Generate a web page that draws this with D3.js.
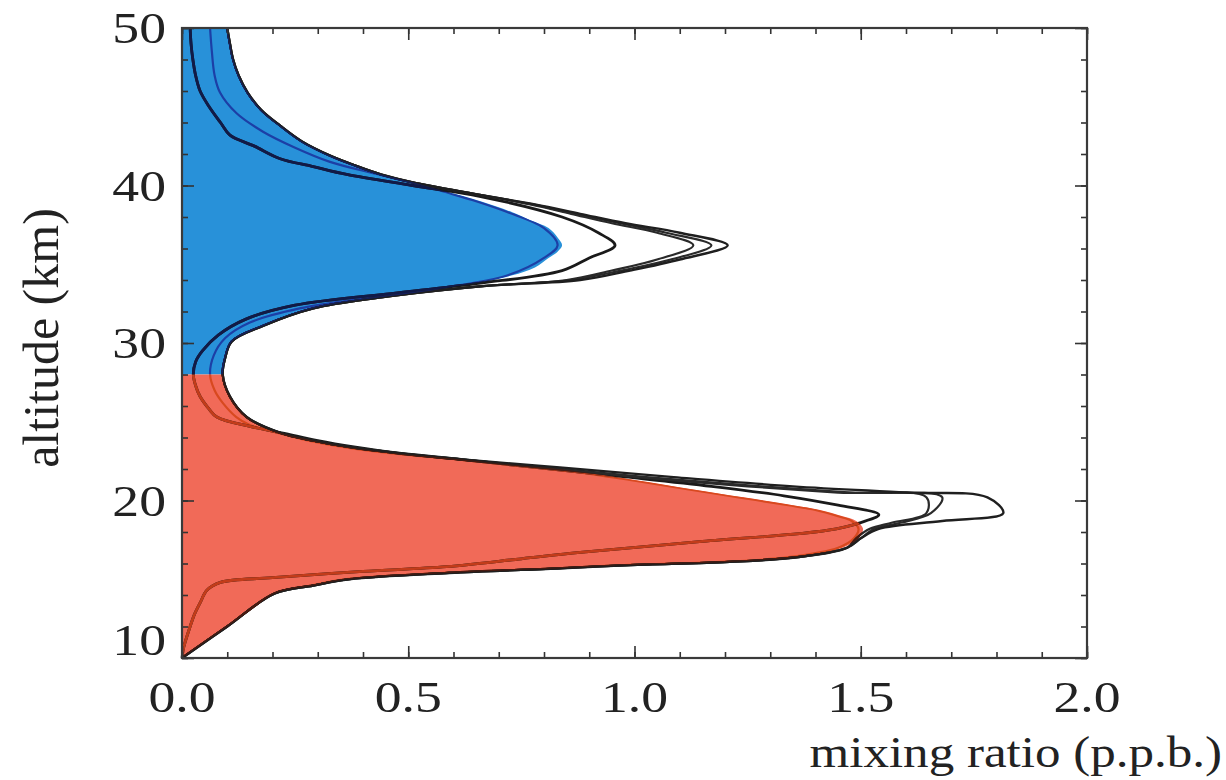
<!DOCTYPE html>
<html>
<head>
<meta charset="utf-8">
<script src="https://cdn.jsdelivr.net/npm/d3@7"></script>
<style>
  body { margin: 0; background: #fff; }
  svg text { font-family: "Liberation Serif", "DejaVu Serif", serif; fill: #222; }
</style>
</head>
<body>
<div id="chart"></div>
<script>
// profiles as [altitude km, mixing ratio p.p.b.]
const blueProfile = [[28,0.09],[28.5,0.092],[29,0.095],[29.5,0.10],[30.1,0.11],[30.6,0.14],[31.1,0.18],[31.7,0.23],[32.2,0.29],[32.6,0.36],[32.9,0.44],[33.2,0.52],[33.5,0.585],[33.9,0.67],[34.3,0.73],[34.8,0.78],[35.4,0.81],[35.8,0.83],[36.2,0.84],[36.7,0.83],[37.3,0.81],[37.8,0.77],[38.3,0.73],[39.0,0.66],[39.6,0.585],[40.2,0.51],[40.7,0.44],[41.3,0.38],[41.9,0.327],[42.8,0.265],[43.8,0.217],[44.8,0.175],[45.9,0.145],[47,0.125],[48,0.113],[49,0.106],[50,0.10]];

const redProfile = [[10,0.0],[11,0.05],[12,0.10],[13,0.15],[14.1,0.205],[14.6,0.29],[15.0,0.364],[15.4,0.585],[15.7,0.835],[15.9,0.98],[16.1,1.20],[16.4,1.35],[17.0,1.46],[17.6,1.495],[18.2,1.505],[18.7,1.49],[19.0,1.46],[19.4,1.41],[19.7,1.35],[20.2,1.24],[20.7,1.13],[21.3,1.0],[21.9,0.86],[22.3,0.72],[22.7,0.585],[23.0,0.47],[23.4,0.364],[23.8,0.29],[24.3,0.217],[24.8,0.17],[25.3,0.143],[26.0,0.12],[26.6,0.106],[27.3,0.095],[28,0.09]];

const lineA = [[10,0.0],[10.7,0.004],[12,0.018],[12.8,0.028],[13.5,0.04],[14.3,0.055],[14.8,0.085],[15.1,0.2],[15.5,0.40],[15.8,0.585],[16.3,0.75],[16.7,0.88],[17.4,1.15],[18.1,1.425],[18.6,1.50],[19.1,1.54],[19.7,1.45],[20.3,1.33],[20.9,1.17],[21.5,0.98],[22.1,0.78],[22.6,0.62],[23.0,0.48],[23.4,0.38],[23.8,0.30],[24.3,0.22],[24.7,0.15],[25.3,0.077],[25.8,0.06],[26.6,0.04],[27.3,0.03],[28,0.025],[28.8,0.03],[29.5,0.045],[30.5,0.08],[31.5,0.14],[32.4,0.25],[33.2,0.48],[33.8,0.66],[34.6,0.84],[35.4,0.90],[36.2,0.957],[37.0,0.92],[38.0,0.84],[39.3,0.66],[40.0,0.51],[40.7,0.364],[41.2,0.29],[41.7,0.217],[42.5,0.16],[43.2,0.106],[44,0.085],[45,0.06],[46,0.04],[47,0.03],[48,0.024],[49,0.02],[50,0.018]];

const lineB = [[10,0.0],[11,0.05],[12,0.10],[13,0.15],[14.1,0.205],[14.6,0.285],[15.0,0.36],[15.4,0.58],[15.7,0.83],[15.9,0.97],[16.1,1.19],[16.4,1.34],[17.0,1.45],[17.6,1.485],[18.2,1.495],[18.7,1.48],[19.0,1.45],[19.4,1.40],[19.7,1.34],[20.2,1.23],[20.7,1.12],[21.3,0.99],[21.9,0.85],[22.3,0.71],[22.7,0.575],[23.0,0.46],[23.4,0.355],[23.8,0.28],[24.3,0.21],[24.8,0.15],[25.3,0.12],[26.2,0.09],[27,0.072],[28,0.062],[29.2,0.07],[30.3,0.095],[31.3,0.15],[32.2,0.26],[32.9,0.42],[33.5,0.575],[34.3,0.72],[35.4,0.80],[36.2,0.83],[37.3,0.80],[38.3,0.72],[39.0,0.65],[39.6,0.58],[40.2,0.51],[40.8,0.42],[41.5,0.327],[42.4,0.25],[43.4,0.18],[44.6,0.12],[45.9,0.084],[47,0.072],[48.5,0.066],[50,0.062]];

const lineC = [[10,0.0],[12,0.10],[14.1,0.205],[14.6,0.29],[15.0,0.37],[15.4,0.59],[15.7,0.84],[15.9,0.99],[16.1,1.21],[16.4,1.36],[17.0,1.47],[17.6,1.49],[18.2,1.52],[18.6,1.57],[19.2,1.645],[20.2,1.645],[20.5,1.45],[20.9,1.25],[21.5,1.0],[22.1,0.79],[22.6,0.62],[23.0,0.48],[23.4,0.37],[23.8,0.29],[24.3,0.217],[25.3,0.143],[26.6,0.106],[28,0.09],[29,0.095],[30.1,0.11],[31.1,0.18],[32.2,0.29],[32.9,0.44],[33.6,0.66],[34.0,0.85],[34.6,0.95],[35.3,1.05],[36.2,1.13],[37.0,1.05],[37.6,0.95],[38.2,0.86],[38.8,0.77],[39.5,0.64],[40.2,0.51],[40.7,0.44],[41.3,0.38],[41.9,0.327],[42.8,0.265],[43.8,0.217],[44.8,0.175],[45.9,0.145],[47,0.125],[48,0.113],[49,0.106],[50,0.10]];

const lineD = [[10,0.0],[12,0.10],[14.1,0.205],[14.6,0.29],[15.0,0.37],[15.4,0.59],[15.7,0.84],[15.9,0.99],[16.1,1.21],[16.4,1.36],[17.0,1.47],[17.6,1.50],[18.2,1.53],[18.6,1.59],[19.2,1.655],[20.2,1.68],[20.5,1.48],[20.9,1.28],[21.5,1.02],[22.1,0.80],[22.6,0.62],[23.0,0.48],[23.4,0.37],[23.8,0.29],[24.3,0.217],[25.3,0.143],[26.6,0.106],[28,0.09],[29,0.095],[30.1,0.11],[31.1,0.18],[32.2,0.29],[32.9,0.44],[33.6,0.66],[34.0,0.86],[34.6,0.97],[35.3,1.08],[36.2,1.17],[37.0,1.07],[37.6,0.97],[38.2,0.87],[38.8,0.775],[39.5,0.64],[40.2,0.51],[40.7,0.44],[41.3,0.38],[41.9,0.327],[42.8,0.265],[43.8,0.217],[44.8,0.175],[45.9,0.145],[47,0.125],[48,0.113],[49,0.106],[50,0.10]];

const lineE = [[10,0.0],[12,0.10],[14.1,0.205],[14.6,0.29],[15.0,0.37],[15.4,0.59],[15.7,0.84],[15.9,0.99],[16.1,1.21],[16.4,1.36],[17.0,1.47],[17.6,1.50],[18.2,1.54],[18.7,1.68],[19.2,1.815],[20.2,1.78],[20.5,1.60],[20.9,1.35],[21.5,1.08],[22.1,0.835],[22.6,0.62],[23.0,0.48],[23.4,0.37],[23.8,0.29],[24.3,0.217],[25.3,0.143],[26.6,0.106],[28,0.09],[29,0.095],[30.1,0.11],[31.1,0.18],[32.2,0.29],[32.9,0.44],[33.6,0.66],[34.0,0.88],[34.6,0.99],[35.3,1.10],[36.2,1.206],[37.0,1.10],[37.6,0.98],[38.2,0.88],[38.8,0.78],[39.5,0.64],[40.2,0.51],[40.7,0.44],[41.3,0.38],[41.9,0.327],[42.8,0.265],[43.8,0.217],[44.8,0.175],[45.9,0.145],[47,0.125],[48,0.113],[49,0.106],[50,0.10]];

const xTickValues = [0, 0.5, 1.0, 1.5, 2.0];
const yTickValues = [10, 20, 30, 40, 50];

const W = 1226, H = 780;
const plot = { left: 182, right: 1087, top: 28, bottom: 658 };

const svg = d3.select("#chart").append("svg")
  .attr("width", W)
  .attr("height", H);

const x = d3.scaleLinear().domain([0, 2]).range([plot.left, plot.right]);
const y = d3.scaleLinear().domain([10, 50]).range([plot.bottom, plot.top]);

const area = d3.area()
  .y(d => y(d[0]))
  .x0(x(0))
  .x1(d => x(d[1]))
  .curve(d3.curveCatmullRom);

const line = d3.line()
  .y(d => y(d[0]))
  .x(d => x(d[1]))
  .curve(d3.curveCatmullRom.alpha(0.5));

// clip paths so lines change colour where they run inside the fills
const defs = svg.append("defs");
defs.append("clipPath").attr("id", "clipBlue")
  .append("path").attr("d", area(blueProfile));
defs.append("clipPath").attr("id", "clipRed")
  .append("path").attr("d", area(redProfile));

// fills
svg.append("path").attr("d", area(blueProfile)).attr("fill", "#2891d9");
svg.append("path").attr("d", area(redProfile)).attr("fill", "#f16a58");

const lines = [
  { data: lineB, out: null, inBlue: "#1c3fa6", inRed: "#d8491f", w: 2.2 },
  { data: lineA, out: "#1a1a1a", inBlue: "#111a48", inRed: "#c23c1a", w: 2.8 },
  { data: lineC, out: "#2a2a2a", inBlue: "#142060", inRed: "#4a1a10", w: 2.2 },
  { data: lineD, out: "#2a2a2a", inBlue: "#142060", inRed: "#4a1a10", w: 2.2 },
  { data: lineE, out: "#1f1f1f", inBlue: "#142060", inRed: "#4a1a10", w: 2.4 }
];

const lineLayer = svg.append("g")
  .attr("fill", "none")
  .attr("stroke-linejoin", "round");

lines.forEach(l => {
  if (l.out) {
    lineLayer.append("path").attr("d", line(l.data))
      .attr("stroke", l.out).attr("stroke-width", l.w);
  }
  lineLayer.append("path").attr("d", line(l.data))
    .attr("stroke", l.inBlue).attr("stroke-width", l.w)
    .attr("clip-path", "url(#clipBlue)");
  lineLayer.append("path").attr("d", line(l.data))
    .attr("stroke", l.inRed).attr("stroke-width", l.w)
    .attr("clip-path", "url(#clipRed)");
});

// axes: inward ticks on all four sides
const xMinor = d3.range(0, 2.001, 0.1);
const yMinor = d3.range(10, 50.001, 2);

function styleAxis(g) {
  g.select(".domain").remove();
  g.selectAll(".tick line").attr("stroke", "#333").attr("stroke-width", 1.6);
  g.selectAll(".tick text").remove();
}

[[d3.axisBottom, plot.bottom], [d3.axisTop, plot.top]].forEach(([fn, pos]) => {
  svg.append("g").attr("transform", `translate(0,${pos})`)
    .call(fn(x).tickValues(xMinor).tickSize(-6)).call(styleAxis);
  svg.append("g").attr("transform", `translate(0,${pos})`)
    .call(fn(x).tickValues(xTickValues).tickSize(-12)).call(styleAxis);
});
[[d3.axisLeft, plot.left], [d3.axisRight, plot.right]].forEach(([fn, pos]) => {
  svg.append("g").attr("transform", `translate(${pos},0)`)
    .call(fn(y).tickValues(yMinor).tickSize(-6)).call(styleAxis);
  svg.append("g").attr("transform", `translate(${pos},0)`)
    .call(fn(y).tickValues(yTickValues).tickSize(-12)).call(styleAxis);
});

// frame
svg.append("rect")
  .attr("x", plot.left).attr("y", plot.top)
  .attr("width", plot.right - plot.left)
  .attr("height", plot.bottom - plot.top)
  .attr("fill", "none")
  .attr("stroke", "#3a3a3a")
  .attr("stroke-width", 2.2);

// tick labels (the source is stretched horizontally)
const sx = 1.22;
svg.selectAll("text.xlab")
  .data(xTickValues)
  .enter().append("text")
  .attr("class", "xlab")
  .attr("transform", d => `translate(${x(d)},712) scale(${sx},1)`)
  .attr("text-anchor", "middle")
  .attr("font-size", 44)
  .text(d => d3.format(".1f")(d));

svg.selectAll("text.ylab")
  .data(yTickValues)
  .enter().append("text")
  .attr("class", "ylab")
  .attr("transform", d => `translate(166,${d === 10 ? 655 : y(d) + 15}) scale(${sx},1)`)
  .attr("text-anchor", "end")
  .attr("font-size", 44)
  .text(d => d);

svg.append("text")
  .attr("transform", `translate(1222,767) scale(1.16,1)`)
  .attr("text-anchor", "end")
  .attr("font-size", 44)
  .text("mixing ratio (p.p.b.)");

svg.append("text")
  .attr("transform", `translate(58,338) rotate(-90)`)
  .attr("text-anchor", "middle")
  .attr("font-size", 50)
  .text("altitude (km)");
</script>
</body>
</html>
